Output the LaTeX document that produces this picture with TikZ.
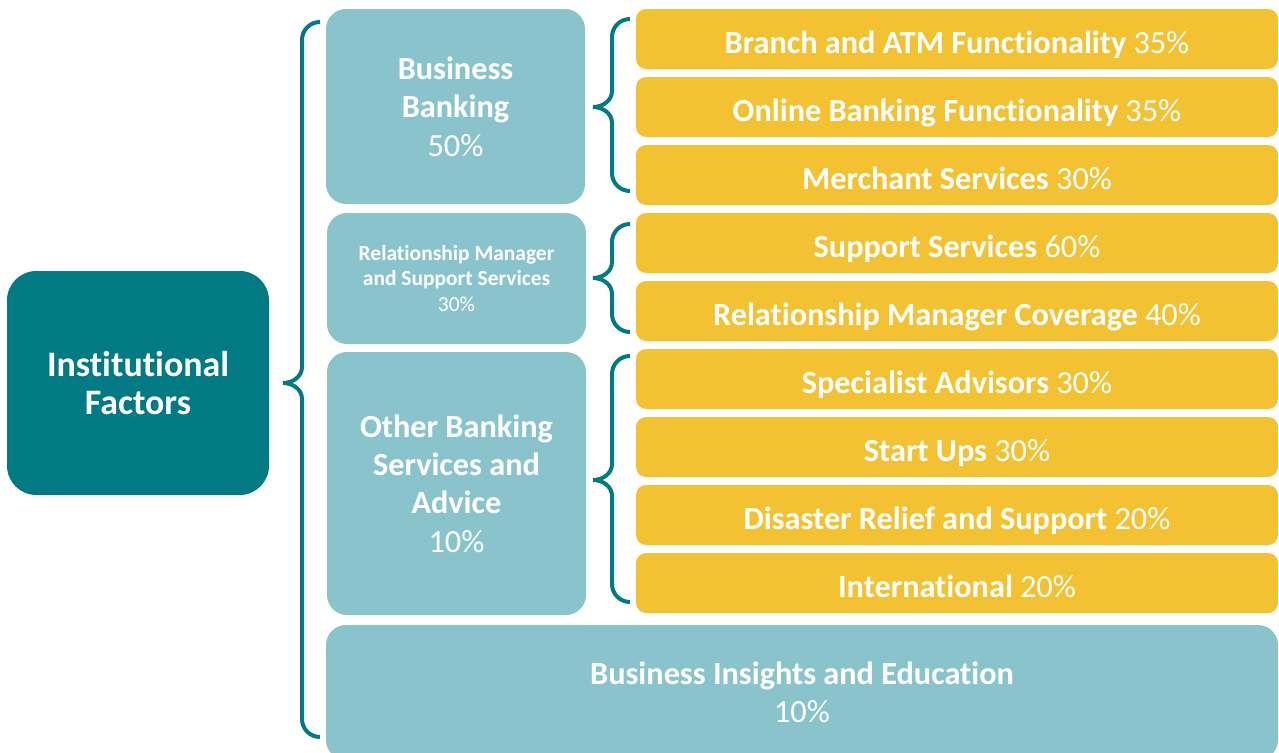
\documentclass[tikz,border=0pt]{standalone}
\usepackage{fontspec}
\setmainfont{Carlito}[Ligatures=NoCommon]
\definecolor{darkteal}{HTML}{017A84}
\definecolor{lightteal}{HTML}{89C4CC}
\definecolor{gold}{HTML}{F2C232}

\begin{document}
\begin{tikzpicture}[x=0.75pt, y=-0.75pt,
		mainbox/.style={fill=darkteal, rounded corners=22pt, minimum width=196.5pt, minimum height=168pt, text=white, align=center, inner sep=0pt, font=\fontsize{26.9}{28.5}\selectfont\bfseries},
		groupbox/.style={fill=lightteal, rounded corners=15pt, minimum width=194.25pt, text=white, align=center, inner sep=0pt, font=\fontsize{24.2}{28.8}\selectfont},
		itembox/.style={fill=gold, rounded corners=7.5pt, minimum width=481.5pt, minimum height=45pt, text=white, inner sep=0pt, text height=21pt, text depth=0pt, font=\fontsize{24.2}{27}\selectfont},
		curly/.style={draw=darkteal, line width=3pt}]
		
		\clip (0,0) rectangle (1279,753);
		
		\node[mainbox] (inst) at (138,383) {Institutional\\Factors};
		
		\node[groupbox, minimum height=146.25pt] (bizbank) at (455.5,106.5) {\textbf{Business}\\\textbf{Banking}\\50\%};
		\node[groupbox, minimum height=98.25pt, font=\fontsize{16.1}{19.2}\selectfont] (relmgr) at (456.5,278.5) {\textbf{Relationship Manager}\\\textbf{and Support Services}\\30\%};
		\node[groupbox, minimum height=197.25pt] (other) at (456.5,483.5) {\textbf{Other Banking}\\\textbf{Services and}\\\textbf{Advice}\\10\%};
		\node[groupbox, minimum width=714pt, minimum height=101.25pt] (insights) at (802,692.5) {\textbf{Business Insights and Education}\\10\%};
		
		\foreach \i/\lbl/\pc in {1/Branch and ATM Functionality/35, 2/Online Banking Functionality/35, 3/Merchant Services/30, 4/Support Services/60, 5/Relationship Manager Coverage/40, 6/Specialist Advisors/30, 7/Start Ups/30, 8/Disaster Relief and Support/20, 9/International/20}
		\node[itembox] (y\i) at (957,{39+68*(\i-1)}) {\textbf{\lbl} \pc\%};
		
		% braces: line x / top / bottom / tip
		\foreach \bx/\btop/\bbot/\btip in {302/22/737/383, 612/19/191/107, 612/224/332/278, 612/356/602/480}
		\draw[curly] ({\bx+18},\btop) to[out=180,in=90] (\bx,{\btop+18}) -- (\bx,{\btip-16}) to[out=-90,in=0] ({\bx-19},\btip) to[out=0,in=90] (\bx,{\btip+16}) -- (\bx,{\bbot-18}) to[out=-90,in=180] ({\bx+18},\bbot);
		
	\end{tikzpicture}
\end{document}
